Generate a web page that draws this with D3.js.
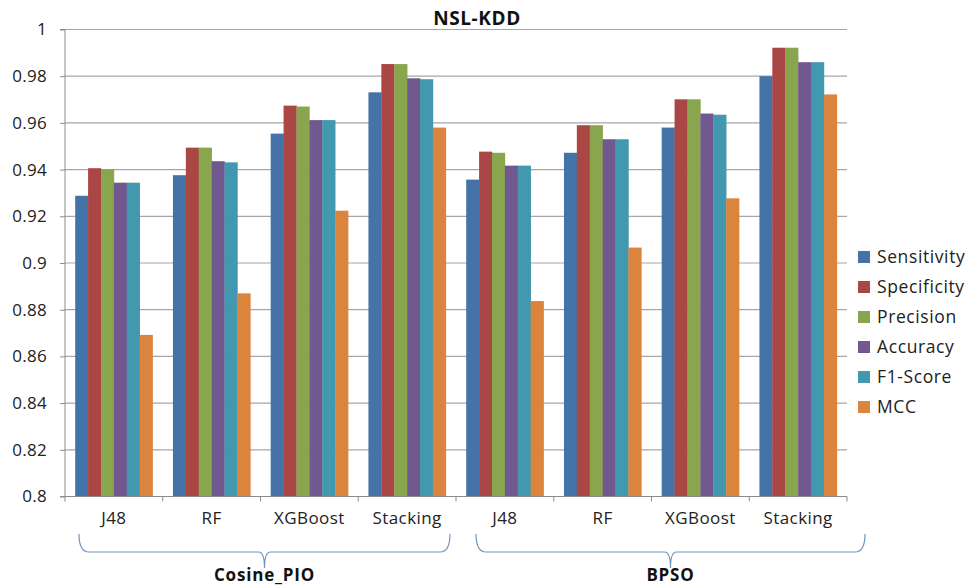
<!DOCTYPE html>
<html><head><meta charset="utf-8">
<script src="https://cdn.jsdelivr.net/npm/d3@7"></script>
<style>body{margin:0;background:#fff}svg{display:block}</style>
</head><body>
<svg id="c" width="971" height="586"></svg>
<script>
const title = "NSL-KDD";
const categories = ["J48","RF","XGBoost","Stacking","J48","RF","XGBoost","Stacking"];
const groups = ["Cosine_PIO","BPSO"];
const series = ["Sensitivity","Specificity","Precision","Accuracy","F1-Score","MCC"];
const colors = ["#4572A7","#AA4643","#89A54E","#71588F","#4198AF","#DB843D"];
const sensitivity = [0.9288,0.9376,0.9554,0.9731,0.9357,0.9472,0.9580,0.9800];
const specificity = [0.9406,0.9494,0.9674,0.9852,0.9477,0.9590,0.9701,0.9922];
const precision   = [0.9401,0.9494,0.9670,0.9852,0.9472,0.9590,0.9701,0.9922];
const accuracy    = [0.9344,0.9436,0.9612,0.9791,0.9417,0.9530,0.9640,0.9860];
const f1score     = [0.9344,0.9431,0.9612,0.9787,0.9417,0.9530,0.9635,0.9860];
const mcc         = [0.8692,0.8870,0.9224,0.9580,0.8837,0.9066,0.9277,0.9722];
const yTicks = [0.8,0.82,0.84,0.86,0.88,0.9,0.92,0.94,0.96,0.98,1];
const values = [sensitivity,specificity,precision,accuracy,f1score,mcc];

const svg = d3.select("#c");
const font = "'Open Sans', Lato, sans-serif";
const L=65, R=847, T=29.5, B=496.5;

const x0 = d3.scaleBand().domain(d3.range(categories.length)).range([L,R]).padding(0);
const x1 = d3.scaleBand().domain(series).range([0,x0.bandwidth()]).paddingInner(0).paddingOuter(0.79);
const y = d3.scaleLinear().domain([0.8,1]).range([B,T]);

// gridlines
svg.append("g").selectAll("line").data(yTicks.filter(d=>d>0.8)).join("line")
  .attr("x1",L).attr("x2",R).attr("y1",d=>y(d)).attr("y2",d=>y(d))
  .attr("stroke","#a6a6a6").attr("stroke-width",1.2);

// y axis
const ya = svg.append("g").attr("transform",`translate(${L},0)`)
  .call(d3.axisLeft(y).tickValues(yTicks).tickSize(5).tickPadding(13).tickFormat(d=>d3.format("")(+d.toFixed(2))));
ya.select(".domain").attr("stroke","#8c8c8c").attr("d",`M-5,${B}H0V${T}H-5`);
ya.selectAll(".tick line").attr("stroke","#8c8c8c");
ya.selectAll(".tick text").attr("font-family",font).attr("font-size",17).attr("letter-spacing",0.3).attr("fill","#222");

// bars
const g = svg.append("g");
series.forEach((s,si)=>{
  g.append("g").attr("fill",colors[si]).selectAll("rect").data(values[si]).join("rect")
    .attr("x",(d,i)=>x0(i)+x1(s)).attr("width",x1.bandwidth()+0.3)
    .attr("y",d=>y(d)).attr("height",d=>B-y(d));
});

// x axis
const xa = svg.append("g").attr("transform",`translate(0,${B})`);
xa.append("line").attr("x1",L).attr("x2",R).attr("stroke","#8c8c8c").attr("stroke-width",1.2);
xa.selectAll(".tk").data(d3.range(categories.length+1)).join("line")
  .attr("x1",i=>L+i*x0.step()).attr("x2",i=>L+i*x0.step()).attr("y1",0).attr("y2",5)
  .attr("stroke","#8c8c8c");
xa.selectAll("text").data(categories).join("text")
  .attr("x",(d,i)=>x0(i)+x0.bandwidth()/2).attr("y",27).attr("text-anchor","middle")
  .attr("font-family",font).attr("font-size",17).attr("letter-spacing",0.4).attr("fill","#222").text(d=>d);

// group brackets
const brackets = [{g:groups[0],x0:79,x1:450},{g:groups[1],x0:476,x1:865}];
brackets.forEach(br=>{
  const xs=br.x0, xe=br.x1, m=(xs+xe)/2, top=534, mid=552, tip=568;
  const p = `M${xs},${top} Q${xs},${mid} ${xs+10},${mid} L${m-6},${mid} Q${m},${mid} ${m},${tip} Q${m},${mid} ${m+6},${mid} L${xe-10},${mid} Q${xe},${mid} ${xe},${top}`;
  svg.append("path").attr("d",p).attr("fill","none").attr("stroke","#6f93bf").attr("stroke-width",1.2);
  svg.append("text").attr("x",m).attr("y",581).attr("text-anchor","middle")
    .attr("font-family",font).attr("font-weight","bold").attr("font-size",17).attr("letter-spacing",0.8).attr("fill","#111").text(br.g);
});

// title
svg.append("text").attr("x",477).attr("y",25).attr("text-anchor","middle")
  .attr("font-family",font).attr("font-weight","bold").attr("font-size",19).attr("letter-spacing",0.6).attr("fill","#111").text(title);

// legend
const lg = svg.append("g").attr("transform","translate(858,257)");
series.forEach((s,i)=>{
  lg.append("rect").attr("x",0).attr("y",i*30-6).attr("width",12).attr("height",12).attr("fill",colors[i]);
  lg.append("text").attr("x",19).attr("y",i*30+6).attr("font-family",font).attr("font-size",17.5).attr("letter-spacing",0.6).attr("fill","#222").text(s);
});
</script>
</body></html>
